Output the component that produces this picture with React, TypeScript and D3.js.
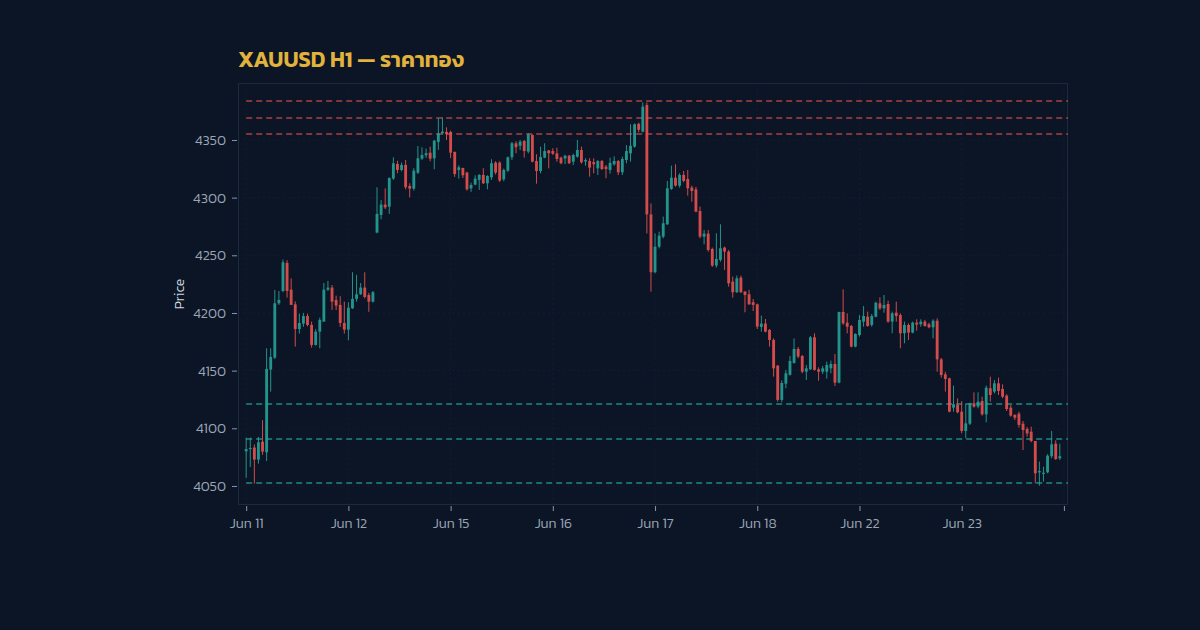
import React, { useEffect, useRef } from 'react';
import * as d3 from 'd3';

// hourly candles, 25 slots per session day
const opens = [
  4080, 4082, 4083.3, 4072.9, 4088.4, 4079.2, 4150.9, 4161.3, 4208.4, 4219.1,
  4243.4, 4220.2, 4207.5, 4186.1, 4190.8, 4197.4, 4189.6, 4172.3, 4183.8, 4192.5,
  4220.2, 4222, 4211.3, 4207, 4191.3, 4185.6, 4204, 4212.2, 4216.2, 4222,
  4215.6, 4209.8, 4269.7, 4285, 4294, 4292.2, 4316.5, 4329.2, 4324, 4328.4,
  4310.1, 4307.8, 4321.7, 4333.8, 4336.7, 4339, 4334.1, 4348.3, 4355.8, 4357,
  4357, 4339.6, 4324, 4325.7, 4321.7, 4308, 4311.3, 4315.4, 4319.7, 4312.4,
  4317.6, 4330.4, 4330.4, 4315.9, 4323.4, 4335, 4347.1, 4345, 4349.1, 4339.9,
  4354.3, 4331.8, 4323.1, 4334.7, 4341, 4340.4, 4338.4, 4334.7, 4334, 4336.4,
  4331.2, 4335.5, 4341.3, 4331.4, 4331.8, 4330.8, 4325.4, 4331.8, 4326.9, 4324,
  4328.9, 4331.8, 4322, 4332.6, 4338.4, 4344.2, 4364, 4357.2, 4380.3, 4285.5,
  4235.3, 4257.5, 4266.2, 4276.9, 4307.5, 4317.3, 4310.4, 4319.7, 4316.2, 4308.7,
  4307.2, 4288.4, 4266.2, 4268.8, 4255.5, 4241.1, 4246, 4256.7, 4253.2, 4227.2,
  4218, 4230.7, 4218.5, 4216.2, 4209.3, 4207.5, 4187.9, 4190.8, 4185.3, 4176.6,
  4154.3, 4124.6, 4138.7, 4146.4, 4156.7, 4168.8, 4162.7, 4149.1, 4151.1, 4178.9,
  4151.1, 4149.1, 4149.1, 4152, 4155.8, 4139.6, 4200.9, 4191.6, 4188.7, 4170.8,
  4180.9, 4192.5, 4196.8, 4189.6, 4196.8, 4208.4, 4204, 4207.8, 4192.5, 4200.3,
  4198.2, 4182.4, 4189.6, 4183, 4191.6, 4190.2, 4192.5, 4190.2, 4187.6, 4193.3,
  4159.8, 4146.8, 4143.3, 4117.9, 4120.2, 4114.4, 4097.7, 4104, 4121.7, 4118.8,
  4123.7, 4112.1, 4134.7, 4131.8, 4139, 4134.1, 4128.3, 4117.9, 4111.6, 4112.7,
  4104, 4099.4, 4097.1, 4089, 4061.8, 4060.5, 4061.8, 4075.8, 4086.7, 4074,
];
const highs = [
  4092, 4092, 4086, 4092.5, 4107, 4169.4, 4169.4, 4220, 4219, 4246.3,
  4245.7, 4230, 4210, 4199.4, 4200, 4199.4, 4192.5, 4186.1, 4196, 4226,
  4227.8, 4224.3, 4215, 4214.5, 4209.8, 4209.3, 4235.3, 4233, 4226, 4235.3,
  4217.4, 4219, 4309, 4298, 4308, 4317.6, 4335, 4332, 4330.4, 4332.7,
  4312.4, 4325.5, 4344.8, 4343.7, 4342.5, 4344.2, 4350, 4368.8, 4369.7, 4361,
  4358, 4340, 4328, 4326, 4322.5, 4313, 4319.4, 4320.5, 4325.5, 4319.4,
  4333.3, 4331.5, 4331.5, 4325.2, 4335.6, 4348.3, 4348.9, 4350, 4350, 4356,
  4354.9, 4337.6, 4344.2, 4347.1, 4341.3, 4342.8, 4343.3, 4335.5, 4337, 4337,
  4338.1, 4350, 4344.2, 4334.1, 4334.1, 4334.1, 4332.6, 4332.6, 4328.3, 4334.7,
  4335.8, 4332.6, 4335.5, 4345.6, 4363.6, 4364.4, 4365, 4382.6, 4382.6, 4295,
  4269, 4270.5, 4283.5, 4314.5, 4327.8, 4328.9, 4321.1, 4323.1, 4324, 4310.4,
  4309.3, 4292.2, 4272, 4272, 4256.7, 4269.1, 4276.9, 4257.5, 4254.6, 4231.5,
  4232.4, 4232.4, 4219.1, 4220, 4212.1, 4208.1, 4197.7, 4194.8, 4186.1, 4178,
  4154.9, 4141.6, 4150.6, 4162.7, 4178, 4170.5, 4163.6, 4154.9, 4180, 4182.4,
  4152.9, 4154, 4157.8, 4158.7, 4164.4, 4201, 4220.5, 4199.7, 4189.6, 4182.4,
  4198.2, 4206, 4201.2, 4199.1, 4209.8, 4213.6, 4215.6, 4210.7, 4201.2, 4209.8,
  4199.7, 4192.5, 4191, 4192.5, 4194.5, 4194.5, 4194, 4191.6, 4194.5, 4195.4,
  4161, 4149, 4143.9, 4137, 4126, 4123.7, 4121.7, 4122.2, 4131.2, 4131.2,
  4127.4, 4137, 4144.8, 4141.9, 4143.9, 4138.1, 4129.5, 4120.2, 4112.1, 4114.4,
  4106.3, 4101.1, 4101.4, 4089, 4071.1, 4066.7, 4077.5, 4097.7, 4089.6, 4086.7,
];
const lows = [
  4057, 4066.5, 4052, 4069.4, 4077, 4071.7, 4131.8, 4160, 4207, 4218,
  4213.3, 4207, 4170.8, 4182.1, 4188, 4188.5, 4170, 4171.7, 4169.4, 4192.5,
  4219, 4202.6, 4202.6, 4187.9, 4182.1, 4176.3, 4203.5, 4209.8, 4215.6, 4212.7,
  4201, 4209, 4269.1, 4281.2, 4290, 4285.9, 4315.4, 4321.1, 4322.9, 4307.2,
  4300.3, 4306.1, 4320.5, 4332.7, 4334.4, 4331.5, 4324.6, 4341.4, 4354.6, 4350,
  4334.4, 4318, 4316.5, 4317, 4306.1, 4305, 4310.7, 4306.7, 4311.9, 4307.2,
  4315.4, 4320, 4313.6, 4314.2, 4322.3, 4332.7, 4338.5, 4341.3, 4334.7, 4338.4,
  4330.6, 4312.1, 4321.1, 4334.1, 4325.4, 4337, 4331.2, 4328.9, 4329, 4329.2,
  4328.3, 4334.7, 4329.5, 4327.7, 4318.2, 4321.1, 4319.6, 4324, 4316.8, 4320.8,
  4327.7, 4319.6, 4319.6, 4329.8, 4331.2, 4343.3, 4356.6, 4356.6, 4269, 4218.5,
  4234.4, 4256, 4264.7, 4276.3, 4306.7, 4309.5, 4308.7, 4313.3, 4301.7, 4296.5,
  4287.3, 4264.7, 4259.5, 4253.2, 4239.9, 4239.3, 4244.5, 4237.3, 4222.8, 4213.3,
  4217.3, 4217.3, 4200.6, 4207, 4201.7, 4186.1, 4183.8, 4183.2, 4170.8, 4144.8,
  4123.1, 4122.6, 4134.7, 4145.7, 4156.1, 4160.7, 4147.7, 4141.9, 4150.6, 4150,
  4141.3, 4147.1, 4143.1, 4147.7, 4136.7, 4139, 4189.6, 4182.4, 4170.2, 4170.2,
  4179.5, 4188.1, 4188.1, 4188.1, 4196.2, 4202.6, 4200.3, 4191.6, 4182.4, 4192.5,
  4169.4, 4173.7, 4176.6, 4182.4, 4184.7, 4188.1, 4188.1, 4186.7, 4178, 4149.1,
  4144, 4131.8, 4113.9, 4114.4, 4113, 4095.7, 4091.3, 4102.9, 4117.9, 4117.3,
  4111, 4105.2, 4123.1, 4130.3, 4128.9, 4126, 4115, 4110.1, 4107.2, 4100.6,
  4081.2, 4092.8, 4087.9, 4052.3, 4050.3, 4053.7, 4061, 4074, 4072.5, 4072.5,
];
const closes = [
  4082, 4083, 4072.9, 4087.9, 4079.8, 4151.5, 4161.9, 4208.4, 4211.3, 4243.9,
  4219.1, 4207, 4186.1, 4191.3, 4197.4, 4189.6, 4172.3, 4183.8, 4194, 4220.2,
  4222, 4209.8, 4206.4, 4191.3, 4185.6, 4204.6, 4212.2, 4216.2, 4222, 4213.9,
  4209.8, 4218, 4285.9, 4294, 4291.6, 4317, 4329.8, 4324, 4328.4, 4309,
  4307.8, 4323.4, 4334.1, 4337, 4338.5, 4333.8, 4349.4, 4355.8, 4357.3, 4355,
  4339, 4320.5, 4326.3, 4319.4, 4307.2, 4311, 4316.5, 4319.7, 4312.4, 4318.8,
  4329.8, 4321.7, 4314.8, 4324, 4335, 4347.1, 4343.7, 4348.5, 4340.4, 4354.9,
  4331.2, 4323.1, 4335.2, 4340.4, 4338.5, 4338.1, 4333.5, 4329.8, 4336.4, 4329.8,
  4337, 4341.3, 4330.6, 4332.6, 4326, 4329, 4331.8, 4324.8, 4324.8, 4330.1,
  4331.8, 4322, 4333.5, 4340.4, 4345, 4363.6, 4358.8, 4378.9, 4285.5, 4235.3,
  4257.5, 4267, 4277.8, 4308.1, 4317.3, 4310.4, 4319.7, 4314.5, 4308.1, 4305.8,
  4287.9, 4266.2, 4268.8, 4254.6, 4241.1, 4246.8, 4256.1, 4253.2, 4225.7, 4218,
  4230.1, 4218, 4215.6, 4207.5, 4207, 4188.2, 4190.8, 4183.8, 4176.6, 4152,
  4124.6, 4139.3, 4147.7, 4158.4, 4168.8, 4162.2, 4149.1, 4152, 4178.9, 4150.6,
  4149.1, 4152, 4154.9, 4155.8, 4139.6, 4200.9, 4191, 4188.1, 4170.8, 4181.8,
  4193.9, 4197.4, 4188.7, 4197.4, 4208.9, 4204, 4206.9, 4192.5, 4199.7, 4197.4,
  4182.4, 4189.6, 4183, 4191.6, 4189.9, 4192.5, 4188.7, 4187.6, 4193.3, 4159.8,
  4146.2, 4142.8, 4114.4, 4120.8, 4113.9, 4097.7, 4104.3, 4121.7, 4118.8, 4123.1,
  4112.1, 4135.2, 4128.9, 4139, 4132.4, 4127.4, 4116.7, 4111, 4109.2, 4102.9,
  4098.5, 4095.6, 4089, 4061, 4062.9, 4061.5, 4076.3, 4086.1, 4073.4, 4075.8,
];

const dayLabels = ['Jun 11', 'Jun 12', 'Jun 15', 'Jun 16', 'Jun 17', 'Jun 18', 'Jun 22', 'Jun 23', ''];
const barsPerDay = 25;
const resistance = [4383.8, 4369.1, 4355.2];
const support = [4121.1, 4090.8, 4052.6];
const priceTicks = [4050, 4100, 4150, 4200, 4250, 4300, 4350];

const W = 1200;
const H = 630;
const BG = '#0b1526';
const UP = '#26a69a';
const DOWN = '#ef5350';
const FONT = "Kanit, Prompt, 'Noto Sans Thai', 'Noto Sans', 'DejaVu Sans', sans-serif";

export default function App() {
  const svgRef = useRef<SVGSVGElement>(null);

  useEffect(() => {
    if (!svgRef.current) return;
    const svg = d3.select(svgRef.current);
    svg.selectAll('*').remove();

    const left = 238, right = 1068, top = 83, bottom = 505;

    const x = d3.scaleLinear().domain([-2, 201]).range([left, right]);
    const y = d3.scaleLinear().domain([4033.5, 4399.4]).range([bottom, top]);

    svg.append('rect').attr('width', W).attr('height', H).attr('fill', BG);

    // barely visible grid
    const grid = svg.append('g').attr('stroke', '#111d30').attr('stroke-width', 1).attr('stroke-dasharray', '2 3');
    grid.selectAll('line.h').data(priceTicks).join('line')
      .attr('x1', left).attr('x2', right)
      .attr('y1', d => y(d)).attr('y2', d => y(d));
    grid.selectAll('line.v').data(d3.range(0, 201, barsPerDay)).join('line')
      .attr('x1', d => x(d)).attr('x2', d => x(d))
      .attr('y1', top).attr('y2', bottom);

    // frame
    svg.append('rect')
      .attr('x', left + 0.5).attr('y', top + 0.5)
      .attr('width', right - left - 1).attr('height', bottom - top - 1)
      .attr('fill', 'none').attr('stroke', '#1d2a3c');

    // key levels
    const lvl = svg.append('g').attr('stroke-width', 1.5).attr('stroke-dasharray', '6 4');
    lvl.selectAll('line.r').data(resistance).join('line')
      .attr('x1', x(0)).attr('x2', right)
      .attr('y1', d => y(d)).attr('y2', d => y(d))
      .attr('stroke', DOWN).attr('stroke-opacity', 0.7);
    lvl.selectAll('line.s').data(support).join('line')
      .attr('x1', x(0)).attr('x2', right)
      .attr('y1', d => y(d)).attr('y2', d => y(d))
      .attr('stroke', UP).attr('stroke-opacity', 0.8);

    // candles
    const idx = d3.range(opens.length);
    const bw = (x(1) - x(0)) * 0.7;
    const candles = svg.append('g').selectAll('g').data(idx).join('g')
      .attr('fill', i => (closes[i] >= opens[i] ? UP : DOWN))
      .attr('stroke', i => (closes[i] >= opens[i] ? UP : DOWN))
      .attr('opacity', 0.88);
    candles.append('line')
      .attr('x1', i => x(i)).attr('x2', i => x(i))
      .attr('y1', i => y(highs[i])).attr('y2', i => y(lows[i]))
      .attr('stroke-width', 1);
    candles.append('rect')
      .attr('x', i => x(i) - bw / 2)
      .attr('width', bw)
      .attr('y', i => y(Math.max(opens[i], closes[i])))
      .attr('height', i => Math.max(1, Math.abs(y(opens[i]) - y(closes[i]))))
      .attr('stroke', 'none');

    // axes
    const xAxis = d3.axisBottom(x)
      .tickValues(d3.range(0, 201, barsPerDay))
      .tickFormat((d) => dayLabels[Math.round(+d / barsPerDay)] ?? '')
      .tickSize(5).tickPadding(8);
    const gx = svg.append('g').attr('transform', `translate(0,${bottom})`).call(xAxis);
    gx.select('.domain').remove();
    gx.selectAll('line').attr('stroke', '#8a95a5').attr('transform', 'translate(0,1)');
    gx.selectAll('text').attr('fill', '#9aa5b4').attr('font-size', 14).attr('font-weight', 300).attr('font-family', FONT);

    const yAxis = d3.axisLeft(y).tickValues(priceTicks).tickFormat(d3.format('d')).tickSize(5).tickPadding(6);
    const gy = svg.append('g').attr('transform', `translate(${left - 1},0)`).call(yAxis);
    gy.select('.domain').remove();
    gy.selectAll('line').attr('stroke', '#8a95a5');
    gy.selectAll('text').attr('fill', '#9aa5b4').attr('font-size', 14).attr('font-weight', 300).attr('font-family', FONT);

    svg.append('text')
      .attr('transform', `translate(184,${(top + bottom) / 2}) rotate(-90)`)
      .attr('text-anchor', 'middle')
      .attr('fill', '#cfd6df').attr('font-size', 14).attr('font-weight', 300).attr('font-family', FONT)
      .text('Price');

    svg.append('text')
      .attr('x', left).attr('y', 67)
      .attr('fill', '#e2b33c').attr('font-size', 22).attr('font-weight', 600)
      .attr('font-family', FONT)
      .text('XAUUSD H1 — ราคาทอง');
  }, []);

  return (
    <svg
      ref={svgRef}
      width={W}
      height={H}
      style={{ position: 'absolute', left: 0, top: 0, display: 'block' }}
    />
  );
}
